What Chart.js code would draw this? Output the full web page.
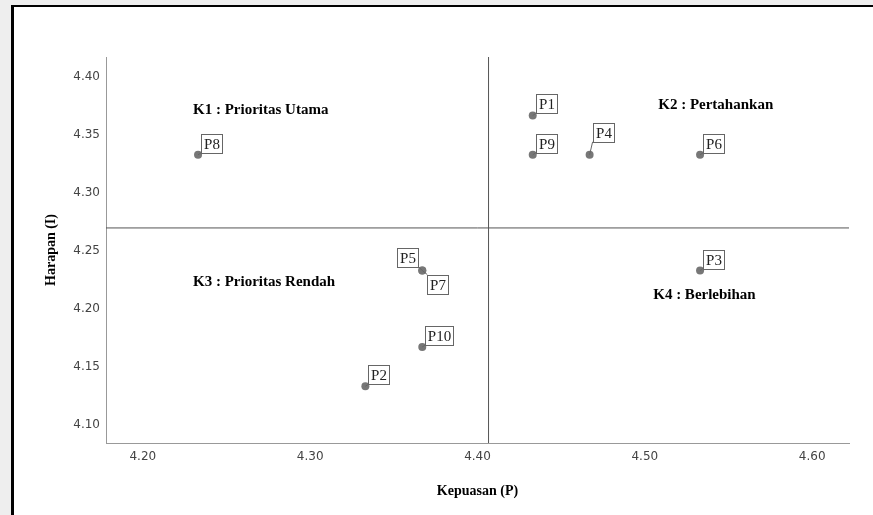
<!DOCTYPE html>
<html>
<head>
<meta charset="utf-8">
<script src="https://cdn.jsdelivr.net/npm/chart.js@4"></script>
<style>
  html, body { margin: 0; padding: 0; background: #eeeeee; overflow: hidden; }
  #frame {
    position: absolute; left: 11px; top: 5px; width: 900px; height: 560px;
    background: #fff; border-left: 3px solid #000; border-top: 2px solid #000;
  }
  #chart { position: absolute; left: 0; top: 0; }
</style>
</head>
<body>
<div id="frame"></div>
<canvas id="chart" width="873" height="515"></canvas>
<script>
// values
const pointNames = ["P1", "P2", "P3", "P4", "P5", "P6", "P7", "P8", "P9", "P10"];
const kepuasan = [4.433, 4.333, 4.533, 4.467, 4.367, 4.533, 4.367, 4.233, 4.433, 4.367];
const harapan = [4.367, 4.133, 4.233, 4.333, 4.233, 4.333, 4.233, 4.333, 4.333, 4.167];
const xTicks = [4.20, 4.30, 4.40, 4.50, 4.60];
const yTicks = [4.10, 4.15, 4.20, 4.25, 4.30, 4.35, 4.40];
const quadrantNames = ["K1 : Prioritas Utama", "K2 : Pertahankan", "K3 : Prioritas Rendah", "K4 : Berlebihan"];

// where the annotations sit (data units) and which side each point label goes
const quadrantAt = [[4.230, 4.3715], [4.508, 4.376], [4.230, 4.223], [4.505, 4.212]];
const labelSide = ["ne", "ne", "ne", "ne2", "nw", "ne", "se", "ne", "ne", "ne"];

const xMin = 4.178, xMax = 4.622;
const yMin = 4.084, yMax = 4.4175;

const mean = (a) => a.reduce((s, v) => s + v, 0) / a.length;
const meanX = mean(kepuasan);
const meanY = mean(harapan);

const points = kepuasan.map((v, i) => ({ x: v, y: harapan[i] }));

const annotations = {
  id: "annotations",
  afterDatasetsDraw(chart) {
    const { ctx, scales: { x, y } } = chart;
    ctx.save();

    // quadrant names
    ctx.font = "bold 15px 'Liberation Serif'";
    ctx.fillStyle = "#000";
    ctx.textBaseline = "middle";
    ctx.textAlign = "left";
    quadrantNames.forEach((t, i) => {
      ctx.fillText(t, x.getPixelForValue(quadrantAt[i][0]), y.getPixelForValue(quadrantAt[i][1]));
    });

    // point labels in boxes
    ctx.font = "15px 'Liberation Serif'";
    ctx.textAlign = "center";
    pointNames.forEach((name, i) => {
      const px = x.getPixelForValue(kepuasan[i]);
      const py = y.getPixelForValue(harapan[i]);
      const w = Math.round(ctx.measureText(name).width + 5);
      const h = 19;
      let bx, by, cx, cy;
      switch (labelSide[i]) {
        case "nw":
          bx = px - 4 - w; by = py - 4 - h; cx = px - 4; cy = py - 4; break;
        case "se":
          bx = px + 5; by = py + 4; cx = bx; cy = by; break;
        case "ne2":
          bx = px + 3; by = py - 13 - h; cx = bx; cy = py - 13; break;
        default:
          bx = px + 3; by = py - 2 - h; cx = bx; cy = py - 2;
      }
      bx = Math.round(bx) + 0.5; by = Math.round(by) + 0.5;
      ctx.strokeStyle = "#666";
      ctx.lineWidth = 1;
      ctx.beginPath();
      ctx.moveTo(px, py);
      ctx.lineTo(cx, cy);
      ctx.stroke();
      ctx.fillStyle = "#fff";
      ctx.fillRect(bx, by, w, h);
      ctx.strokeRect(bx, by, w, h);
      ctx.fillStyle = "#222";
      ctx.fillText(name, bx + w / 2, by + h / 2 + 1);
    });
    ctx.restore();
  }
};

new Chart(document.getElementById("chart"), {
  type: "scatter",
  data: {
    datasets: [
      {
        type: "line",
        data: [{ x: meanX, y: yMin }, { x: meanX, y: yMax }],
        borderColor: "#555",
        borderWidth: 1,
        pointRadius: 0,
      },
      {
        type: "line",
        data: [{ x: xMin, y: meanY }, { x: xMax, y: meanY }],
        borderColor: "#555",
        borderWidth: 1,
        pointRadius: 0,
      },
      {
        data: points,
        backgroundColor: "#777",
        borderWidth: 0,
        pointRadius: 4,
      },
    ],
  },
  options: {
    responsive: false,
    animation: false,
    layout: { padding: { left: 0, top: 57, right: 24, bottom: 0 } },
    plugins: { legend: { display: false }, tooltip: { enabled: false } },
    scales: {
      x: {
        type: "linear",
        min: xMin,
        max: xMax,
        afterBuildTicks: (s) => { s.ticks = xTicks.map((v) => ({ value: v })); },
        afterFit: (s) => { s.height = 72; },
        grid: { display: false, drawTicks: false },
        border: { display: true, color: "#999", width: 1 },
        ticks: {
          padding: 7,
          color: "#444",
          font: { family: "'DejaVu Sans'", size: 12 },
          callback: (v) => Number(v).toFixed(2),
        },
        title: {
          display: true,
          text: "Kepuasan (P)",
          color: "#000",
          font: { family: "'Liberation Serif'", size: 14, weight: "bold" },
          padding: { top: 15, bottom: 15 },
        },
      },
      y: {
        type: "linear",
        min: yMin,
        max: yMax,
        afterBuildTicks: (s) => { s.ticks = yTicks.map((v) => ({ value: v })); },
        afterFit: (s) => { s.width = 106; },
        grid: { display: false, drawTicks: false },
        border: { display: true, color: "#999", width: 1 },
        ticks: {
          padding: 6,
          color: "#444",
          font: { family: "'DejaVu Sans'", size: 12 },
          callback: (v) => Number(v).toFixed(2),
        },
        title: {
          display: true,
          text: "Harapan (I)",
          color: "#000",
          font: { family: "'Liberation Serif'", size: 14, weight: "bold" },
          padding: { top: 43, bottom: 43 },
        },
      },
    },
  },
  plugins: [annotations],
});
</script>
</body>
</html>
